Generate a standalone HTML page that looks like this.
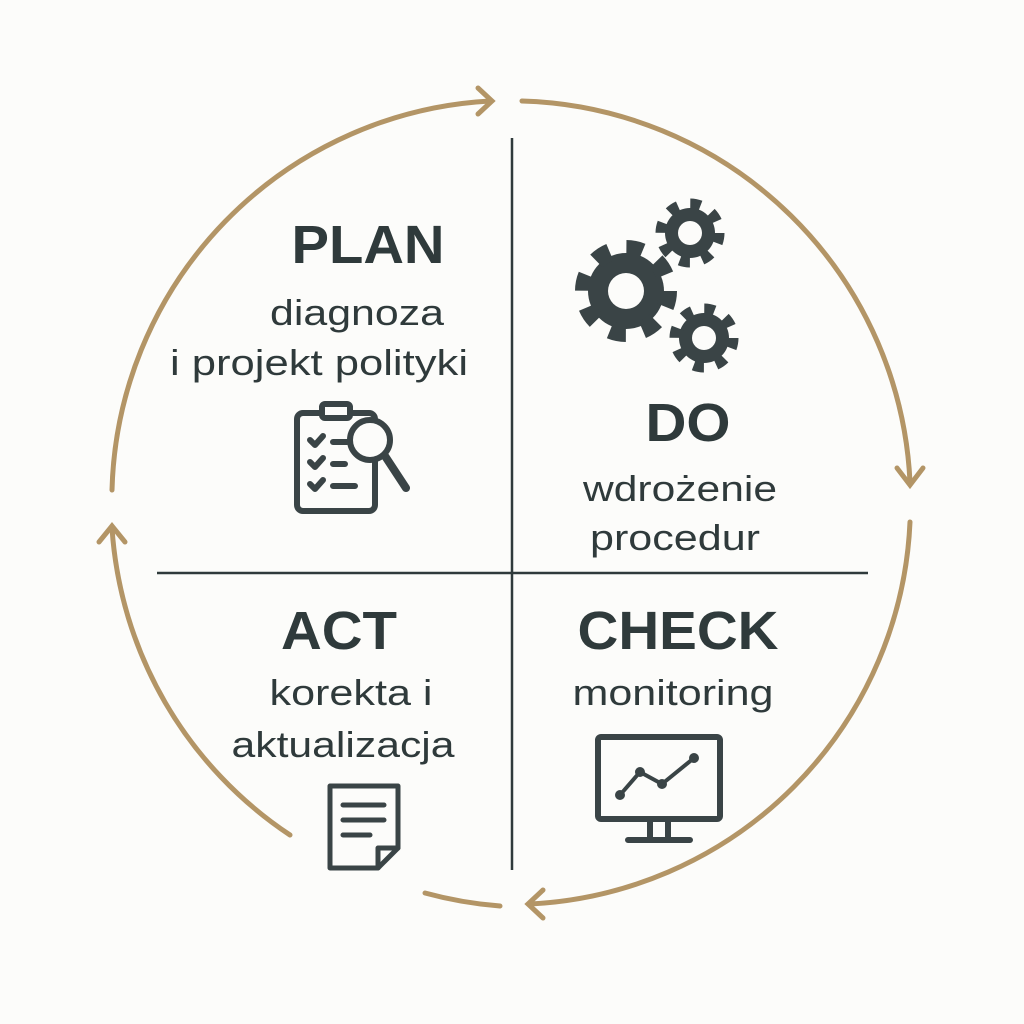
<!DOCTYPE html>
<html><head><meta charset="utf-8"><style>
html,body{margin:0;padding:0;background:#fcfcfa;}
svg{display:block}
text{font-family:"Liberation Sans",sans-serif;fill:#2f3a3b;text-anchor:middle}
.h{font-weight:bold;font-size:54px}
.s{font-size:36px}
</style></head><body>
<svg width="1024" height="1024" viewBox="0 0 1024 1024">
<rect width="1024" height="1024" fill="#fcfcfa"/>
<g fill="none" stroke="#b39566" stroke-width="5" stroke-linecap="round">
<path d="M112,490 A400,400 0 0 1 490,101"/>
<path d="M478,88 L492,101 L478,114"/>
<path d="M522,101 A400,400 0 0 1 910,482"/>
<path d="M897,468 L910,485 L923,468"/>
<path d="M910,522 A400,400 0 0 1 530,904"/>
<path d="M543,890 L528,904 L543,918"/>
<path d="M500,906 A400,400 0 0 1 425,893"/>
<path d="M290,835 A400,400 0 0 1 112,528"/>
<path d="M99,542 L112,526 L125,542"/>
</g>
<g stroke="#2f3a3b" stroke-width="2.5">
<line x1="512" y1="138" x2="512" y2="870"/>
<line x1="157" y1="573" x2="868" y2="573"/>
</g>
<text class="h" x="368" y="263" textLength="153" lengthAdjust="spacingAndGlyphs">PLAN</text>
<text class="s" x="357" y="325" textLength="174" lengthAdjust="spacingAndGlyphs">diagnoza</text>
<text class="s" x="319" y="375" textLength="298" lengthAdjust="spacingAndGlyphs">i projekt polityki</text>
<text class="h" x="688" y="441" textLength="85" lengthAdjust="spacingAndGlyphs">DO</text>
<text class="s" x="680" y="501" textLength="194" lengthAdjust="spacingAndGlyphs">wdrożenie</text>
<text class="s" x="675" y="550" textLength="170" lengthAdjust="spacingAndGlyphs">procedur</text>
<text class="h" x="339" y="649" textLength="116" lengthAdjust="spacingAndGlyphs">ACT</text>
<text class="s" x="351" y="705" textLength="163" lengthAdjust="spacingAndGlyphs">korekta i</text>
<text class="s" x="343" y="757" textLength="223" lengthAdjust="spacingAndGlyphs">aktualizacja</text>
<text class="h" x="678" y="649" textLength="201" lengthAdjust="spacingAndGlyphs">CHECK</text>
<text class="s" x="673" y="705" textLength="201" lengthAdjust="spacingAndGlyphs">monitoring</text>
<!-- gears -->
<g fill="#3a4446">
<circle cx="626" cy="291" r="38"/>
<circle cx="626" cy="291" r="42" fill="none" stroke="#3a4446" stroke-width="18" stroke-dasharray="16 17"/>
<circle cx="690" cy="233" r="25"/>
<circle cx="690" cy="233" r="28" fill="none" stroke="#3a4446" stroke-width="13" stroke-dasharray="10 12"/>
<circle cx="704" cy="338" r="25"/>
<circle cx="704" cy="338" r="28" fill="none" stroke="#3a4446" stroke-width="13" stroke-dasharray="10 12"/>
</g>
<g fill="#fcfcfa"><circle cx="626" cy="291" r="18"/><circle cx="690" cy="233" r="12"/><circle cx="704" cy="338" r="12"/></g>
<!-- clipboard -->
<g fill="none" stroke="#3a4446" stroke-width="6" stroke-linecap="round" stroke-linejoin="round">
<rect x="297" y="413" width="78" height="98" rx="6"/>
<rect x="322" y="404" width="28" height="14" rx="3" fill="#fcfcfa"/>
<path d="M310,440 l5,5 l8,-9 M310,462 l5,5 l8,-9 M310,484 l5,5 l8,-9"/>
<path d="M333,442 h14 M333,464 h12 M333,486 h22"/>
<circle cx="370" cy="440" r="20" fill="#fcfcfa"/>
<line x1="385" y1="456" x2="406" y2="488" stroke-width="8"/>
</g>
<!-- document -->
<g fill="none" stroke="#3a4446" stroke-width="5" stroke-linejoin="round" stroke-linecap="round">
<path d="M330,786 H398 V848 L378,868 H330 Z"/>
<path d="M378,868 V848 H398"/>
<path d="M343,805 H384 M343,820 H384 M343,835 H370"/>
</g>
<!-- monitor -->
<g fill="none" stroke="#3a4446" stroke-width="6" stroke-linejoin="round" stroke-linecap="round">
<rect x="598" y="737" width="122" height="82" rx="3"/>
<path d="M650,820 V838 M668,820 V838 M628,840 H690"/>
<path d="M620,795 L640,772 L662,784 L694,758" stroke-width="4"/>
</g>
<g fill="#3a4446"><circle cx="620" cy="795" r="5"/><circle cx="640" cy="772" r="5"/><circle cx="662" cy="784" r="5"/><circle cx="694" cy="758" r="5"/></g>
</svg>
</body></html>
